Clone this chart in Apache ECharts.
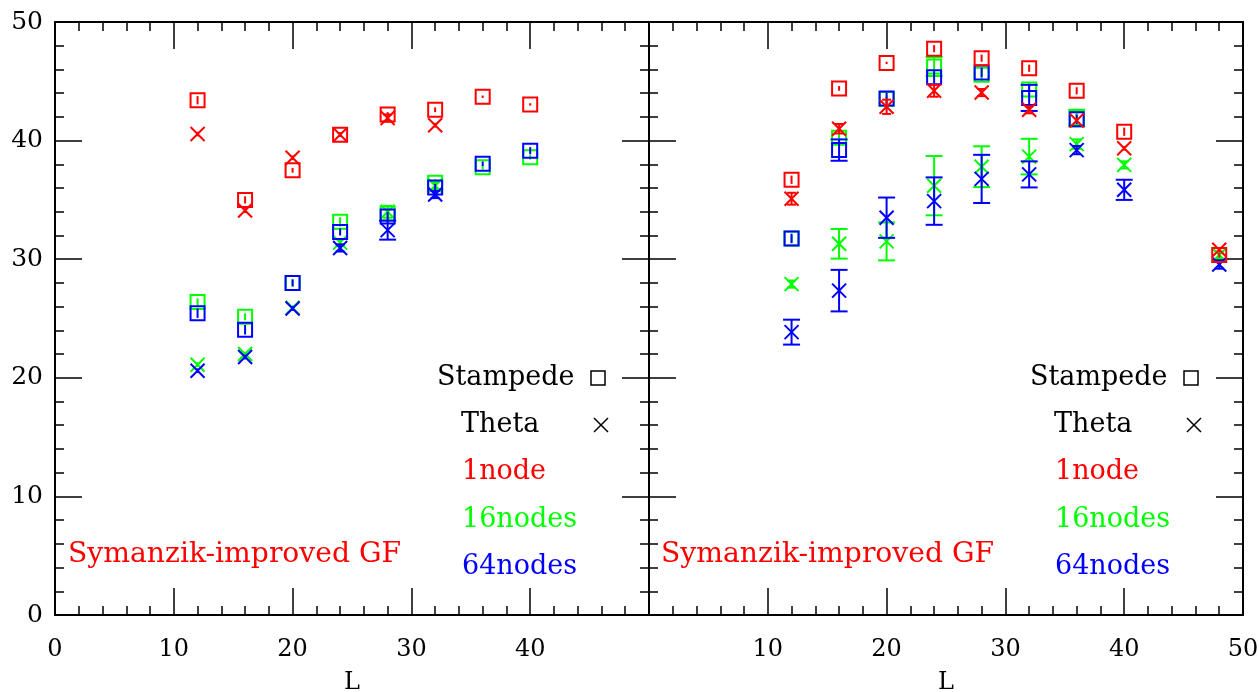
<!DOCTYPE html>
<html>
<head>
<meta charset="utf-8">
<script src="https://cdn.jsdelivr.net/npm/echarts@6/dist/echarts.min.js"></script>
<style>
html,body{margin:0;padding:0;background:#fff;}
#chart{width:1259px;height:692px;}
</style>
</head>
<body>
<div id="chart"></div>
<script>
// ---------------- data ----------------
// Left panel
const L_left = [12, 16, 20, 24, 28, 32, 36, 40];
const L_left_theta = [12, 16, 20, 24, 28, 32];
const stampede1_left = [43.4, 35.0, 37.5, 40.5, 42.2, 42.6, 43.7, 43.05];
const stampede1_left_err = [0.35, 0.3, 0.2, 0.2, 0.2, 0.2, 0.1, 0.1];
const theta1_left = [40.55, 34.1, 38.55, 40.5, 41.9, 41.3];
const theta1_left_err = [0.2, 0.2, 0.2, 0.2, 0.3, 0.2];
const stampede16_left = [26.4, 25.15, 28.0, 33.15, 33.85, 36.45, 37.75, 38.6];
const stampede16_left_err = [0.3, 0.3, 0.3, 0.4, 0.4, 0.3, 0.2, 0.2];
const stampede64_left = [25.45, 24.05, 28.0, 32.3, 33.6, 36.05, 38.05, 39.15];
const stampede64_left_err = [0.4, 0.4, 0.3, 0.3, 0.4, 0.3, 0.2, 0.3];
const theta16_left = [21.1, 22.0, 25.9, 31.4, 34.0, 36.2];
const theta16_left_err = [0.2, 0.2, 0.2, 0.3, 0.5, 0.3];
const theta64_left = [20.6, 21.75, 25.85, 30.95, 32.45, 35.45];
const theta64_left_err = [0.2, 0.2, 0.2, 0.3, 0.8, 0.3];

// Right panel
const L_right = [12, 16, 20, 24, 28, 32, 36, 40, 48];
const L_right_s = [12, 16, 20, 24, 28, 32, 36];
const stampede1_right = [36.7, 44.4, 46.55, 47.75, 46.95, 46.1, 44.2, 40.75, 30.35];
const stampede1_right_err = [0.35, 0.2, 0.1, 0.3, 0.3, 0.3, 0.3, 0.35, 0.2];
const theta1_right = [35.1, 41.0, 42.85, 44.2, 44.05, 42.6, 41.7, 39.35, 30.8];
const theta1_right_err = [0.5, 0.4, 0.6, 0.5, 0.3, 0.3, 0.2, 0.2, 0.2];
const stampede16_right = [31.75, 40.25, 43.5, 46.25, 45.55, 44.3, 41.9];
const stampede16_right_err = [0.3, 0.5, 0.3, 0.8, 0.5, 0.6, 0.7];
const stampede64_right = [31.75, 39.2, 43.55, 45.35, 45.75, 43.6, 41.8];
const stampede64_right_err = [0.4, 0.9, 0.5, 0.5, 0.4, 1.1, 0.4];
const theta16_right = [27.9, 31.3, 31.5, 36.2, 37.8, 38.65, 39.7, 37.95, 30.35];
const theta16_right_err = [0.3, 1.25, 1.6, 2.5, 1.72, 1.5, 0.4, 0.3, 0.3];
const theta64_right = [23.85, 27.35, 33.5, 34.9, 36.77, 37.15, 39.2, 35.85, 29.55];
const theta64_right_err = [1.05, 1.75, 1.7, 2.0, 2.03, 1.1, 0.35, 0.85, 0.35];

// Tick labels shown on each panel's bottom axis
const xTicksLeft = [0, 10, 20, 30, 40];
const xTicksRight = [10, 20, 30, 40, 50];

// Texts
const legendMachines = ['Stampede', 'Theta'];
const legendNodes = ['1node', '16nodes', '64nodes'];
const annotation = 'Symanzik-improved GF';
const axisTitle = 'L';

// ---------------- helpers ----------------
const RED = '#ff0000', GREEN = '#00ff00', BLUE = '#0000ff';
const FONT = '"DejaVu Serif", serif';

function pack(xs, ys, es) { return xs.map((x, i) => [x, ys[i], es[i]]); }

function renderFactory(shape, color) {
  return function (params, api) {
    const x = api.value(0), y = api.value(1), e = api.value(2);
    const c = api.coord([x, y]);
    const t = api.coord([x, y + e]);
    const b = api.coord([x, y - e]);
    const st = { stroke: color, lineWidth: 2, fill: null };
    const ch = [];
    const h = 7;
    if (shape === 'sq') {
      ch.push({ type: 'rect', shape: { x: c[0] - h, y: c[1] - h, width: 2 * h, height: 2 * h }, style: st });
    } else {
      ch.push({ type: 'line', shape: { x1: c[0] - h, y1: c[1] - h, x2: c[0] + h, y2: c[1] + h }, style: st });
      ch.push({ type: 'line', shape: { x1: c[0] - h, y1: c[1] + h, x2: c[0] + h, y2: c[1] - h }, style: st });
    }
    ch.push({ type: 'line', shape: { x1: c[0], y1: t[1], x2: c[0], y2: b[1] }, style: { stroke: color, lineWidth: 2 } });
    const half = (b[1] - t[1]) / 2;
    let cw = 0;
    if (half > 7.5) cw = 8.5; else if (shape === 'x' && half > 3.5) cw = 4.5;
    if (cw > 0) {
      ch.push({ type: 'line', shape: { x1: c[0] - cw, y1: t[1], x2: c[0] + cw, y2: t[1] }, style: { stroke: color, lineWidth: 2 } });
      ch.push({ type: 'line', shape: { x1: c[0] - cw, y1: b[1], x2: c[0] + cw, y2: b[1] }, style: { stroke: color, lineWidth: 2 } });
    }
    return { type: 'group', children: ch };
  };
}

function ser(name, panel, shape, color, data) {
  return {
    type: 'custom', name: name,
    xAxisIndex: panel === 0 ? 0 : 2, yAxisIndex: panel === 0 ? 0 : 2,
    renderItem: renderFactory(shape, color),
    data: data, clip: false, silent: true,
    encode: { x: 0, y: 1 }
  };
}

const tickCommon = {
  axisLine: { show: true, onZero: false, lineStyle: { color: '#000', width: 2 } },
  axisTick: { show: true, inside: true, length: 27, lineStyle: { color: '#000', width: 1.5 } },
  minorTick: { show: true, splitNumber: 5, length: 9, lineStyle: { color: '#000', width: 1.5 } },
  splitLine: { show: false }
};

function xAx(grid, pos, labels, shownTicks) {
  return Object.assign({}, tickCommon, {
    type: 'value', gridIndex: grid, position: pos, min: 0, max: 50, interval: 10,
    axisLabel: {
      show: labels, margin: 23, color: '#000', fontFamily: FONT, fontSize: 24,
      showMinLabel: true, showMaxLabel: true,
      formatter: v => (shownTicks && shownTicks.indexOf(v) >= 0) ? String(v) : ''
    },
    name: labels ? axisTitle : '', nameLocation: 'middle', nameGap: 56,
    nameTextStyle: { color: '#000', fontFamily: FONT, fontSize: 24 }
  });
}
function yAx(grid, pos, labels) {
  return Object.assign({}, tickCommon, {
    type: 'value', gridIndex: grid, position: pos, min: 0, max: 50, interval: 10,
    axisLabel: { show: labels, margin: 12, color: '#000', fontFamily: FONT, fontSize: 25 }
  });
}

// legend graphics
function legendGraphics(dx) {
  const g = [];
  const txt = (s, x, y, color, sx) => ({
    type: 'text', x: x + dx, y: y, scaleX: sx || 1,
    style: { text: s, fill: color, font: '27px ' + FONT, textAlign: 'left', textVerticalAlign: 'middle', align: 'left', verticalAlign: 'middle' }
  });
  g.push(txt(legendMachines[0], 437, 378, '#000'));
  g.push(txt(legendMachines[1], 461, 425, '#000'));
  g.push(txt(legendNodes[0], 462, 472, RED));
  g.push(txt(legendNodes[1], 462, 520, GREEN));
  g.push(txt(legendNodes[2], 462, 567, BLUE));
  g.push(txt(annotation, 68, 555, RED, 1.045));
  g.push({ type: 'rect', shape: { x: 591 + dx, y: 371, width: 14, height: 14 }, style: { stroke: '#000', lineWidth: 1.5, fill: null } });
  g.push({ type: 'line', shape: { x1: 594 + dx, y1: 418, x2: 608 + dx, y2: 432 }, style: { stroke: '#000', lineWidth: 1.5 } });
  g.push({ type: 'line', shape: { x1: 594 + dx, y1: 432, x2: 608 + dx, y2: 418 }, style: { stroke: '#000', lineWidth: 1.5 } });
  return g;
}

const chart = echarts.init(document.getElementById('chart'), null, { renderer: 'canvas' });
chart.setOption({
  animation: false,
  backgroundColor: '#fff',
  grid: [
    { left: 55, top: 22, width: 594, height: 593, containLabel: false, outerBoundsMode: 'none' },
    { left: 649, top: 22, width: 594, height: 593, containLabel: false, outerBoundsMode: 'none' }
  ],
  xAxis: [xAx(0, 'bottom', true, xTicksLeft), xAx(0, 'top', false), xAx(1, 'bottom', true, xTicksRight), xAx(1, 'top', false)],
  yAxis: [yAx(0, 'left', true), yAx(0, 'right', false), yAx(1, 'left', false), yAx(1, 'right', false)],
  graphic: legendGraphics(0).concat(legendGraphics(593)),
  series: [
    ser('S16 L', 0, 'sq', GREEN, pack(L_left, stampede16_left, stampede16_left_err)),
    ser('T16 L', 0, 'x', GREEN, pack(L_left_theta, theta16_left, theta16_left_err)),
    ser('S64 L', 0, 'sq', BLUE, pack(L_left, stampede64_left, stampede64_left_err)),
    ser('T64 L', 0, 'x', BLUE, pack(L_left_theta, theta64_left, theta64_left_err)),
    ser('S1 L', 0, 'sq', RED, pack(L_left, stampede1_left, stampede1_left_err)),
    ser('T1 L', 0, 'x', RED, pack(L_left_theta, theta1_left, theta1_left_err)),
    ser('S16 R', 1, 'sq', GREEN, pack(L_right_s, stampede16_right, stampede16_right_err)),
    ser('T16 R', 1, 'x', GREEN, pack(L_right, theta16_right, theta16_right_err)),
    ser('S64 R', 1, 'sq', BLUE, pack(L_right_s, stampede64_right, stampede64_right_err)),
    ser('T64 R', 1, 'x', BLUE, pack(L_right, theta64_right, theta64_right_err)),
    ser('S1 R', 1, 'sq', RED, pack(L_right, stampede1_right, stampede1_right_err)),
    ser('T1 R', 1, 'x', RED, pack(L_right, theta1_right, theta1_right_err))
  ]
});
</script>
</body>
</html>
